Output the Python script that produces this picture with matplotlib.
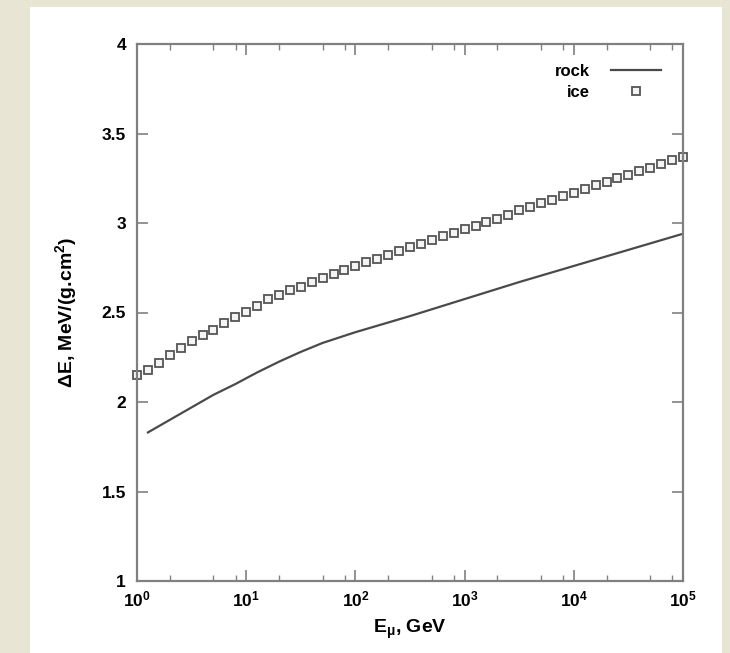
import matplotlib
matplotlib.use("Agg")
import matplotlib.pyplot as plt
from matplotlib.patches import Rectangle
from matplotlib.ticker import LogLocator, LogFormatterMathtext, NullFormatter

# ---- data ----
ice_logE = [0.0, 0.1, 0.2, 0.3, 0.4, 0.5, 0.6, 0.7, 0.8, 0.9,
            1.0, 1.1, 1.2, 1.3, 1.4, 1.5, 1.6, 1.7, 1.8, 1.9,
            2.0, 2.1, 2.2, 2.3, 2.4, 2.5, 2.6, 2.7, 2.8, 2.9,
            3.0, 3.1, 3.2, 3.3, 3.4, 3.5, 3.6, 3.7, 3.8, 3.9,
            4.0, 4.1, 4.2, 4.3, 4.4, 4.5, 4.6, 4.7, 4.8, 4.9, 5.0]
ice_dE = [2.153, 2.181, 2.219, 2.262, 2.303, 2.340, 2.374, 2.405, 2.439, 2.476,
          2.502, 2.536, 2.573, 2.600, 2.624, 2.645, 2.671, 2.690, 2.715, 2.740,
          2.760, 2.780, 2.800, 2.820, 2.845, 2.865, 2.885, 2.905, 2.925, 2.945,
          2.965, 2.985, 3.005, 3.025, 3.045, 3.070, 3.090, 3.110, 3.130, 3.150,
          3.170, 3.190, 3.210, 3.230, 3.250, 3.270, 3.290, 3.310, 3.330, 3.350, 3.370]

rock_logE = [0.1, 0.3, 0.5, 0.7, 0.9, 1.1, 1.3, 1.5, 1.7, 2.0, 2.5, 3.0, 3.5, 4.0, 4.5, 5.0]
rock_dE = [1.83, 1.90, 1.97, 2.04, 2.10, 2.165, 2.225, 2.28, 2.33, 2.39, 2.48, 2.575,
           2.67, 2.76, 2.85, 2.94]

xlim = (1, 1e5)
ylim = (1, 4)
yticks = [1, 1.5, 2, 2.5, 3, 3.5, 4]
ytick_labels = ["1", "1.5", "2", "2.5", "3", "3.5", "4"]

# ---- style ----
plt.rcParams['font.family'] = ['Liberation Sans', 'DejaVu Sans']
plt.rcParams['font.weight'] = 'bold'
plt.rcParams['mathtext.fontset'] = 'custom'
plt.rcParams['mathtext.rm'] = 'Liberation Sans:bold'
plt.rcParams['mathtext.bf'] = 'Liberation Sans:bold'
plt.rcParams['mathtext.it'] = 'Liberation Sans:bold:italic'
plt.rcParams['mathtext.default'] = 'rm'

W, H = 730, 653
fig = plt.figure(figsize=(W / 100, H / 100), dpi=100, facecolor='#e8e5d4')
fig.patches.append(Rectangle((30 / W, 0), (722 - 30) / W, 1 - 7 / H,
                             transform=fig.transFigure, facecolor='white',
                             edgecolor='none', zorder=-10))

ax = fig.add_axes([137 / W, 1 - 581 / H, (683 - 137) / W, (581 - 44) / H])
ax.set_zorder(5)
ax.set_facecolor('white')

ice_E = [10 ** v for v in ice_logE]
rock_E = [10 ** v for v in rock_logE]

ax.plot(rock_E, rock_dE, color='#4a4a4a', lw=1.6, label='rock')
ax.plot(ice_E, ice_dE, ls='none', marker='s', ms=5.2, mfc='#f4f4f4', mec='#555555',
        mew=1.3, label='ice', clip_on=False)

ax.set_xscale('log')
ax.set_xlim(*xlim)
ax.set_ylim(*ylim)
ax.set_yticks(yticks)
ax.set_yticklabels(ytick_labels)
ax.xaxis.set_major_locator(LogLocator(base=10, numticks=10))
ax.xaxis.set_minor_locator(LogLocator(base=10, subs=(2, 5, 8), numticks=20))
ax.xaxis.set_major_formatter(LogFormatterMathtext())
ax.xaxis.set_minor_formatter(NullFormatter())

for s in ax.spines.values():
    s.set_color('#808080')
    s.set_linewidth(1.6)

ax.tick_params(which='both', direction='in', top=True, right=True, colors='#808080',
               labelcolor='black', labelsize=12.5)
ax.tick_params(which='major', length=8, width=1.2, pad=8)
ax.tick_params(which='minor', length=4, width=1.0)
ax.tick_params(axis='x', which='major', pad=6)

ax.set_xlabel(r'E$_{\mu}$, GeV', fontsize=14, fontweight='bold', labelpad=6)
ax.set_ylabel(r'ΔE, MeV/(g.cm$^{2}$)', fontsize=14, fontweight='bold', labelpad=16)

leg = ax.legend(loc='upper right', frameon=False, markerfirst=False, fontsize=12,
                handlelength=3.0, handletextpad=1.3, borderaxespad=0.0,
                labelspacing=0.35, bbox_to_anchor=(0.972, 0.975))
for t in leg.get_texts():
    t.set_fontweight('bold')

fig.savefig('out.png', dpi=100, facecolor=fig.get_facecolor())
